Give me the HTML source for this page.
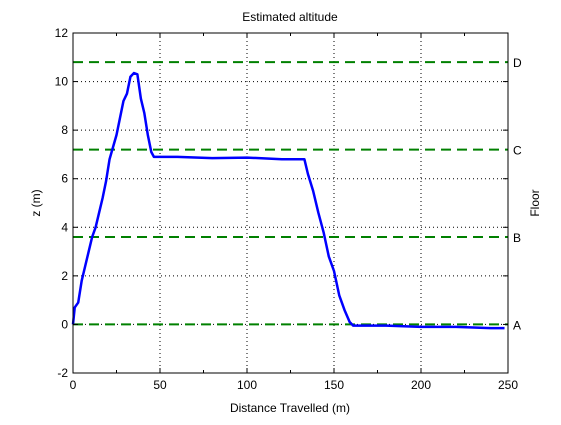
<!DOCTYPE html>
<html><head><meta charset="utf-8"><style>
body{margin:0;background:#fff;}
svg text{font-family:"Liberation Sans",sans-serif;font-size:12px;fill:#000;}
</style></head><body>
<svg id="chart" width="561" height="420" xmlns="http://www.w3.org/2000/svg">
<rect x="0" y="0" width="561" height="420" fill="#fff"/>
<g id="grid"></g>
<g id="floors"></g>
<g id="series"></g>
<g id="axes"></g>
<text x="290" y="21" text-anchor="middle">Estimated altitude</text>
<text x="290" y="412" text-anchor="middle">Distance Travelled (m)</text>
<text transform="translate(40,203) rotate(-90)" text-anchor="middle">z (m)</text>
<text transform="translate(539,203) rotate(-90)" text-anchor="middle">Floor</text>
</svg>
<script>
const xTicks=[0,50,100,150,200,250];
const xMinor=[25,75,125,175,225];
const yTicks=[-2,0,2,4,6,8,10,12];
const floorValues=[0,3.6,7.2,10.8];
const floorLabels=['A','B','C','D'];
const distX=[0,1,3,5,7,9,11,13,15,17,19,21,23,25,27,29,31,33,35,37,39,41,43,45,46.5,60,80,100,120,130,133,135,138,141,144,147,150,153,156,159,161,180,200,220,240,248];
const altZ=[0,0.7,0.9,1.8,2.4,3.0,3.6,4.0,4.6,5.2,5.9,6.8,7.3,7.8,8.5,9.2,9.5,10.2,10.35,10.3,9.3,8.7,7.8,7.1,6.9,6.9,6.85,6.87,6.8,6.8,6.8,6.2,5.5,4.6,3.8,2.8,2.2,1.2,0.6,0.1,-0.05,-0.05,-0.1,-0.1,-0.15,-0.15];
const X0=73,X1=508,Y0=373,Y1=33;
const sx=v=>X0+(v-0)/(250-0)*(X1-X0);
const sy=v=>Y0-(v+2)/14*(Y0-Y1);
const NS='http://www.w3.org/2000/svg';
function mk(parent,tag,attrs){const e=document.createElementNS(NS,tag);for(const k in attrs)e.setAttribute(k,attrs[k]);document.getElementById(parent).appendChild(e);return e;}
xTicks.forEach(t=>{
 if(t>0&&t<250){const g=mk('grid','line',{x1:sx(t),x2:sx(t),y1:Y1,y2:Y0,stroke:'#000','stroke-width':1,'stroke-dasharray':'1,3'});
 
 }
 const a=mk('axes','line',{x1:sx(t),x2:sx(t),y1:Y0,y2:Y0-5,stroke:'#000'});
 
 
 const b=mk('axes','line',{x1:sx(t),x2:sx(t),y1:Y1,y2:Y1+5,stroke:'#000'});
 
 
 const l=mk('axes','text',{x:sx(t),y:Y0+16,'text-anchor':'middle'});l.textContent=t;
 
 
});
xMinor.forEach(t=>{
 const a=mk('axes','line',{x1:sx(t),x2:sx(t),y1:Y0,y2:Y0-3,stroke:'#000'});
 
 
 const b=mk('axes','line',{x1:sx(t),x2:sx(t),y1:Y1,y2:Y1+3,stroke:'#000'});
 
 
});
yTicks.forEach(t=>{
 if(t>-2&&t<12){const g=mk('grid','line',{x1:X0,x2:X1,y1:sy(t),y2:sy(t),stroke:'#000','stroke-width':1,'stroke-dasharray':'1,3'});
 
 }
 const a=mk('axes','line',{x1:X0,x2:X0+5,y1:sy(t),y2:sy(t),stroke:'#000'});
 
 
 const b=mk('axes','line',{x1:X1,x2:X1-5,y1:sy(t),y2:sy(t),stroke:'#000'});
 
 
 const l=mk('axes','text',{x:X0-5,y:sy(t)+4,'text-anchor':'end'});l.textContent=t;
 
 
});
floorValues.forEach((v,i)=>{
 const f=mk('floors','line',{x1:X0,x2:X1,y1:sy(v),y2:sy(v),stroke:'#008000','stroke-width':2,'stroke-dasharray':'10,6'});
 
 
 const l=mk('axes','text',{x:X1+5,y:sy(v)+5});l.textContent=floorLabels[i];
 
 
});
const p=mk('series','polyline',{points:distX.map((d,i)=>sx(d)+','+sy(altZ[i])).join(' '),fill:'none',stroke:'#0000ff','stroke-width':2.5,'stroke-linejoin':'round'});


const box=mk('axes','rect',{x:X0,y:Y1,width:X1-X0,height:Y0-Y1,fill:'none',stroke:'#000'});


</script>
</body></html>
